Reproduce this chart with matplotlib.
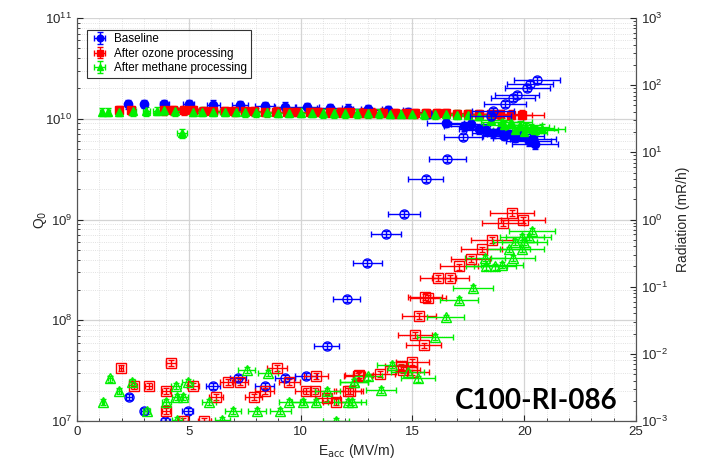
import matplotlib
matplotlib.use("Agg")
import matplotlib.pyplot as plt
from matplotlib.ticker import MultipleLocator, LogLocator, NullFormatter
import numpy as np

plt.rcParams["font.family"] = ["Liberation Sans", "DejaVu Sans"]

# ---- Q0 vs Eacc (left axis, filled markers) ----
base_q_E = [2.3, 3.0, 3.9, 5.0, 6.1, 7.3, 8.4, 9.3, 10.3, 11.3, 12.1, 13.0, 13.9, 14.8,
            15.7, 16.5, 17.3, 17.6, 18.0, 18.3, 18.6, 18.9, 19.1, 19.3, 19.6, 19.9,
            20.2, 20.4, 20.5]
base_q = [1.40e10, 1.41e10, 1.40e10, 1.39e10, 1.38e10, 1.36e10, 1.34e10, 1.32e10, 1.30e10,
          1.28e10, 1.26e10, 1.24e10, 1.21e10, 1.17e10, 1.12e10, 9.1e9, 8.4e9, 8.9e9, 7.9e9,
          7.7e9, 7.2e9, 7.5e9, 6.8e9, 7.1e9, 6.5e9, 6.8e9, 6.0e9, 6.3e9, 5.6e9]

ozone_q_E = [1.9, 2.4, 3.9, 4.3, 4.8, 5.2, 5.7, 6.1, 6.6, 7.0, 7.5, 7.9, 8.4, 8.9, 9.4,
             9.8, 10.4, 10.8, 11.3, 11.8, 12.2, 12.8, 13.2, 13.7, 14.2, 14.7, 15.1, 15.6,
             16.1, 16.5, 17.0, 17.5, 18.0, 18.5, 18.9, 19.4, 19.9]
ozone_q = [1.22e10, 1.22e10, 1.22e10, 1.21e10, 1.21e10, 1.21e10, 1.20e10, 1.20e10, 1.20e10,
           1.19e10, 1.19e10, 1.19e10, 1.18e10, 1.18e10, 1.18e10, 1.17e10, 1.17e10, 1.17e10,
           1.16e10, 1.16e10, 1.16e10, 1.15e10, 1.15e10, 1.15e10, 1.14e10, 1.14e10, 1.14e10,
           1.13e10, 1.13e10, 1.13e10, 1.12e10, 1.12e10, 1.12e10, 1.11e10, 1.11e10, 1.10e10,
           1.10e10]

methane_q_E = [1.1, 1.4, 1.9, 2.5, 3.1, 3.6, 3.9, 4.4, 4.7, 5.2, 5.6, 6.1, 6.6, 7.1, 7.5,
               8.0, 8.5, 9.0, 9.5, 10.0, 10.5, 11.0, 11.5, 12.0, 12.5, 13.0, 13.5, 14.0,
               14.5, 15.0, 15.5, 16.0, 16.5, 17.0, 17.5, 18.0, 18.5, 19.0, 19.1, 19.4,
               19.6, 19.8, 20.0, 20.1, 20.3, 20.5, 20.8]
methane_q = [1.17e10, 1.17e10, 1.18e10, 1.19e10, 1.19e10, 1.20e10, 1.21e10, 1.19e10, 7.2e9,
             1.18e10, 1.18e10, 1.17e10, 1.17e10, 1.17e10, 1.16e10, 1.16e10, 1.16e10, 1.15e10,
             1.15e10, 1.15e10, 1.15e10, 1.14e10, 1.14e10, 1.14e10, 1.13e10, 1.13e10, 1.13e10,
             1.12e10, 1.12e10, 1.12e10, 1.11e10, 1.11e10, 1.11e10, 1.10e10, 1.10e10, 1.07e10,
             9.8e9, 9.3e9, 8.6e9, 9.2e9, 7.8e9, 8.7e9, 7.4e9, 8.3e9, 8.1e9, 7.7e9, 8.0e9]

# ---- Radiation vs Eacc (right axis, open markers) ----
base_r_E = [20.57, 20.26, 20.13, 19.68, 19.5, 19.14, 18.6, 18.5, 17.26, 16.55, 15.6, 14.62,
            13.82, 12.97, 12.07, 11.18, 10.24, 9.3, 8.4, 7.2, 6.08, 2.33, 3.0, 4.96, 3.94]
base_r = [119, 104, 91, 71, 65, 52, 41, 35, 17, 8.0, 4.0, 1.21, 0.61, 0.226, 0.066, 0.0132,
          0.0047, 0.0044, 0.0033, 0.0044, 0.0033, 0.0023, 0.0014, 0.0014, 0.001]

ozone_r_E = [19.45, 19.95, 19.05, 18.56, 18.1, 17.6, 17.1, 16.7, 16.15, 15.56, 15.7, 15.3,
             15.1, 15.5, 15.0, 14.5, 14.6, 13.55, 12.6, 15.0, 12.2, 1.97, 4.2, 2.55, 3.2,
             3.98, 3.98, 4.74, 5.2, 5.7, 6.2, 6.75, 7.3, 7.9, 8.4, 8.94, 9.5, 10.25, 10.7,
             10.65, 11.2, 11.6, 12.1, 12.55]
ozone_r = [1.25, 1.0, 0.89, 0.50, 0.36, 0.26, 0.20, 0.134, 0.134, 0.071, 0.068, 0.037, 0.019,
           0.0134, 0.0075, 0.0065, 0.0058, 0.005, 0.0049, 0.0053, 0.0028, 0.0062, 0.0074,
           0.0033, 0.0033, 0.0028, 0.0014, 0.001, 0.0033, 0.001, 0.0023, 0.0038, 0.0038,
           0.0023, 0.0028, 0.0062, 0.0038, 0.0028, 0.0047, 0.0028, 0.0022, 0.0019, 0.0028,
           0.0047]

methane_r_E = [20.35, 19.9, 20.2, 19.6, 20.0, 19.3, 19.9, 18.25, 19.5, 18.3, 18.7, 19.0, 17.7,
               17.1, 16.5, 16.0, 14.1, 14.8, 15.25, 13.0, 12.4, 13.6, 12.3, 1.48, 1.88, 1.16,
               2.46, 3.13, 4.0, 4.43, 4.47, 4.74, 4.96, 4.47, 5.9, 6.5, 6.98, 7.6, 8.05, 8.54,
               9.1, 9.5, 10.1, 10.7, 11.2, 11.6, 12.1, 12.4]
methane_r = [0.676, 0.55, 0.55, 0.46, 0.46, 0.36, 0.36, 0.27, 0.27, 0.20, 0.20, 0.21, 0.095,
             0.063, 0.035, 0.018, 0.0069, 0.0053, 0.0043, 0.0046, 0.0038, 0.0029, 0.0019,
             0.0043, 0.0028, 0.0019, 0.0038, 0.0014, 0.0019, 0.0033, 0.0023, 0.0023, 0.0038,
             0.00105, 0.0019, 0.00105, 0.0014, 0.0058, 0.0014, 0.0052, 0.0014, 0.0019, 0.0019,
             0.0019, 0.0028, 0.001, 0.0019, 0.0038]

labels = ["Baseline", "After ozone processing", "After methane processing"]
colors = ["#0000ff", "#ff0000", "#00f000"]
markers = ["o", "s", "^"]

XERR = 0.05   # relative field error
YERR = 0.10   # relative Q0 / radiation error
GREY = "#262626"


def draw(axis, E, val, color, marker, filled, label=None):
    E = np.asarray(E)
    val = np.asarray(val)
    return axis.errorbar(E, val, xerr=XERR * E, yerr=YERR * val, fmt=marker,
                         color=color, mec=color, mfc=color if filled else "none",
                         ms=6 if filled else 6.5, mew=1.0, elinewidth=1.0,
                         capsize=2, capthick=1.0, label=label)


fig = plt.figure(figsize=(7.02, 4.63), dpi=100)
ax = fig.add_axes([77 / 702, 1 - 421 / 463, 559 / 702, 403 / 463])
ax2 = ax.twinx()

q_sets = [(base_q_E, base_q), (ozone_q_E, ozone_q), (methane_q_E, methane_q)]
r_sets = [(base_r_E, base_r), (ozone_r_E, ozone_r), (methane_r_E, methane_r)]
for (E, q), lab, c, m in zip(q_sets, labels, colors, markers):
    draw(ax, E, q, c, m, True, lab)
for (E, r), c, m in zip(r_sets, colors, markers):
    draw(ax2, E, r, c, m, False)

ax.set_xlim(0, 25)
ax.set_yscale("log")
ax.set_ylim(1e7, 1e11)
ax2.set_yscale("log")
ax2.set_ylim(1e-3, 1e3)

ax.xaxis.set_major_locator(MultipleLocator(5))
ax.xaxis.set_minor_locator(MultipleLocator(1))
for a in (ax, ax2):
    a.yaxis.set_major_locator(LogLocator(base=10, numticks=10))
    a.yaxis.set_minor_locator(LogLocator(base=10, subs=np.arange(2, 10), numticks=20))
    a.yaxis.set_minor_formatter(NullFormatter())
    a.tick_params(which="both", direction="in", colors=GREY, labelsize=9.5)
    a.tick_params(which="major", length=4)
    a.tick_params(which="minor", length=2)
    for s in a.spines.values():
        s.set_color("#555555")
        s.set_linewidth(0.8)
    a.spines["top"].set_visible(False)
ax.tick_params(axis="y", right=False)
ax.tick_params(axis="x", top=False)
ax2.xaxis.set_visible(False)

ax.grid(which="major", color="#d4d4d4", lw=0.9)
ax.grid(which="minor", color="#d8d8d8", lw=0.6, ls=":")
ax.set_axisbelow(True)
ax2.patch.set_visible(False)

ax.set_xlabel("E$_{\\rm acc}$ (MV/m)", fontsize=10, color=GREY, labelpad=3)
ax.set_ylabel("Q$_0$", fontsize=10, color=GREY, labelpad=-3)
ax2.set_ylabel("Radiation (mR/h)", fontsize=10, color=GREY, labelpad=6)

leg = ax.legend(loc="upper left", bbox_to_anchor=(0.008, 0.985), fontsize=8.4,
                frameon=True, fancybox=False, edgecolor="black", handlelength=1.5,
                borderpad=0.3, labelspacing=0.2, handletextpad=0.5, markerscale=0.8)
leg.get_frame().set_linewidth(0.8)
leg.set_zorder(10)

fig.text(455 / 702, 1 - 401 / 463, "C100-RI-086", fontsize=20, fontweight="bold",
         family=["Lato", "DejaVu Sans"], ha="left", va="center", color="black")

fig.savefig("out.png", dpi=100)
